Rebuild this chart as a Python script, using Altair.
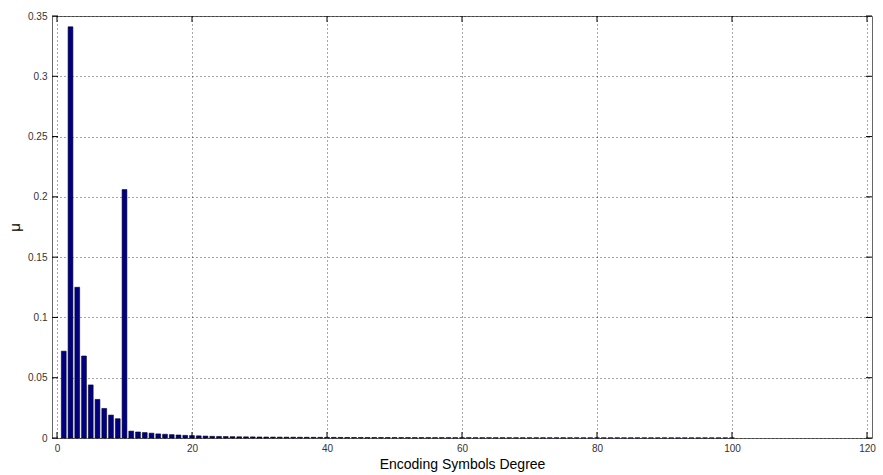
import altair as alt
import pandas as pd

degrees = list(range(1, 101))
mu = [
    0.0720, 0.3410, 0.1250, 0.0680, 0.0440, 0.0320, 0.0245, 0.0190, 0.0160, 0.2060,
    0.0057, 0.0050, 0.0045, 0.0040, 0.0034, 0.0031, 0.0028, 0.0025, 0.0022, 0.0020,
    0.0018, 0.0016, 0.0014, 0.0013, 0.0012, 0.0011, 0.0010, 0.00095, 0.00090, 0.00085,
    0.00080, 0.00076, 0.00072, 0.00068, 0.00065, 0.00062, 0.00059, 0.00056, 0.00053, 0.00050,
    0.00048, 0.00046, 0.00044, 0.00042, 0.00040, 0.00038, 0.00037, 0.00035, 0.00034, 0.00033,
    0.00032, 0.00031, 0.00030, 0.00029, 0.00028, 0.00027, 0.00026, 0.00025, 0.00024, 0.00023,
    0.00023, 0.00022, 0.00021, 0.00021, 0.00020, 0.00020, 0.00019, 0.00019, 0.00018, 0.00018,
    0.00017, 0.00017, 0.00016, 0.00016, 0.00015, 0.00015, 0.00015, 0.00014, 0.00014, 0.00014,
    0.00013, 0.00013, 0.00013, 0.00012, 0.00012, 0.00012, 0.00012, 0.00011, 0.00011, 0.00011,
    0.00011, 0.00010, 0.00010, 0.00010, 0.00010, 0.00010, 0.00009, 0.00009, 0.00009, 0.00009,
]
x_ticks = [0, 20, 40, 60, 80, 100, 120]
y_ticks = [0, 0.05, 0.1, 0.15, 0.2, 0.25, 0.3, 0.35]

W, H = 820, 422
FONT = "Liberation Sans"

df = pd.DataFrame({"degree": degrees, "mu": mu})
xt = pd.DataFrame({"t": x_ticks})
yt = pd.DataFrame({"t": y_ticks})

xscale = alt.Scale(domain=[0, 120], nice=False, zero=False)
yscale = alt.Scale(domain=[0, 0.35], nice=False)

xaxis = alt.Axis(values=x_ticks, format="d", title="Encoding Symbols Degree",
                 grid=True, gridDash=[1, 3], gridColor="#000", gridOpacity=0.7,
                 ticks=False, domain=False, labelPadding=5, labelFontSize=10,
                 labelColor="#333", labelFont=FONT, titleFont=FONT,
                 titleFontSize=14, titleFontWeight="normal", titleColor="#000",
                 titlePadding=4)
yaxis = alt.Axis(values=y_ticks, format="~g", title="μ",
                 grid=True, gridDash=[1, 3], gridColor="#000", gridOpacity=0.7,
                 ticks=False, domain=False, labelPadding=5, labelFontSize=10,
                 labelColor="#333", labelFont=FONT, titleFont=FONT,
                 titleFontSize=15, titleFontWeight="normal", titleColor="#000",
                 titlePadding=5)

bars = alt.Chart(df).mark_bar(size=4.8, color="#000080", stroke="#000022",
                              strokeWidth=0.6).encode(
    x=alt.X("degree:Q", scale=xscale, axis=xaxis),
    y=alt.Y("mu:Q", scale=yscale, axis=yaxis),
)

tick_style = dict(color="#000", strokeWidth=1)
xb = alt.Chart(xt).mark_rule(**tick_style).encode(
    x=alt.X("t:Q", scale=xscale), y=alt.value(H), y2=alt.value(H - 6))
xtop = alt.Chart(xt).mark_rule(**tick_style).encode(
    x=alt.X("t:Q", scale=xscale), y=alt.value(0), y2=alt.value(6))
yl = alt.Chart(yt).mark_rule(**tick_style).encode(
    y=alt.Y("t:Q", scale=yscale), x=alt.value(0), x2=alt.value(6))
yr = alt.Chart(yt).mark_rule(**tick_style).encode(
    y=alt.Y("t:Q", scale=yscale), x=alt.value(W), x2=alt.value(W - 6))

chart = alt.layer(bars, xb, xtop, yl, yr).properties(
    width=W, height=H,
    autosize=alt.AutoSizeParams(type="none"),
    padding={"left": 52, "top": 16, "right": 11, "bottom": 37},
    background="white",
).configure_view(stroke="#666", strokeWidth=1)

chart.save("out.html", embed_options={"renderer": "svg", "actions": False})
